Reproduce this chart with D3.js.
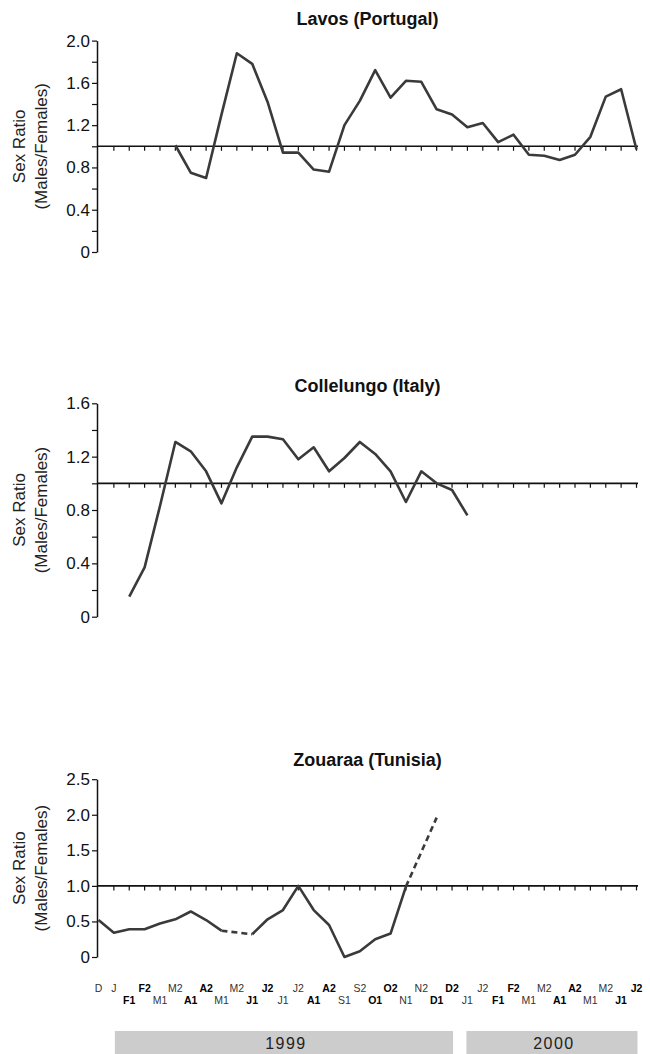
<!DOCTYPE html>
<html>
<head>
<meta charset="utf-8">
<script src="https://cdn.jsdelivr.net/npm/d3@7"></script>
<style>
  html, body { margin: 0; padding: 0; background: #fff; }
  svg { display: block; }
  text { font-family: "Liberation Sans", Arial, sans-serif; }
</style>
</head>
<body>
<svg id="chart" width="650" height="1054"></svg>
<script>
// Fortnightly sampling periods, Dec 1998 – Jun 2000
const categories = ["D","J","F1","F2","M1","M2","A1","A2","M1","M2","J1","J2",
  "J1","J2","A1","A2","S1","S2","O1","O2","N1","N2","D1","D2",
  "J1","J2","F1","F2","M1","M2","A1","A2","M1","M2","J1","J2"];

// Sex ratio (males/females) per sampling period; null = no sample
const lavos = [null,null,null,null,null,1.01,0.75,0.70,1.30,1.88,1.78,1.42,
  0.94,0.94,0.78,0.76,1.20,1.43,1.72,1.46,1.62,1.61,1.35,1.30,
  1.18,1.22,1.04,1.11,0.92,0.91,0.87,0.92,1.09,1.47,1.54,0.97];

const collelungo = [null,null,0.15,0.37,0.83,1.31,1.24,1.09,0.85,1.12,1.35,1.35,
  1.33,1.18,1.27,1.09,1.19,1.31,1.22,1.09,0.86,1.09,1.00,0.95,
  0.76,null,null,null,null,null,null,null,null,null,null,null];

const zouaraa = [0.52,0.34,0.39,0.39,0.47,0.53,0.64,0.52,0.37,null,0.32,0.53,
  0.66,1.00,0.66,0.45,0.00,0.08,0.25,0.33,0.99,null,1.96,null,
  null,null,null,null,null,null,null,null,null,null,null,null];

const yearLabels = ["1999", "2000"];
const yearFirst = [1, 24];
const yearLast = [23, 35];

const panels = [
  { title: "Lavos (Portugal)",    values: lavos,      yMax: 2.0, minor: 0.2, major: 0.4, top: 40.6,  bottom: 252,   titleY: 25 },
  { title: "Collelungo (Italy)",  values: collelungo, yMax: 1.6, minor: 0.2, major: 0.4, top: 403.3, bottom: 616.7, titleY: 392 },
  { title: "Zouaraa (Tunisia)",   values: zouaraa,    yMax: 2.5, minor: 0.5, major: 0.5, top: 779.2, bottom: 957,   titleY: 766 }
];

const svg = d3.select("#chart");
const axisX = 97;
const x = d3.scalePoint().domain(d3.range(categories.length)).range([98.5, 636.5]);
const lineEnd = 638;
const titleX = (axisX + lineEnd) / 2;

function ticksFor(max, step) {
  const n = Math.round(max / step);
  return d3.range(n + 1).map(k => +(k * step).toFixed(2));
}

panels.forEach(p => {
  const y = d3.scaleLinear().domain([0, p.yMax]).range([p.bottom, p.top]);
  const g = svg.append("g");

  // title
  g.append("text")
    .attr("x", titleX).attr("y", p.titleY)
    .attr("text-anchor", "middle")
    .attr("font-size", 18).attr("font-weight", "bold").attr("fill", "#111")
    .text(p.title);

  // y axis
  const majors = ticksFor(p.yMax, p.major);
  const yAxis = d3.axisLeft(y)
    .tickValues(ticksFor(p.yMax, p.minor))
    .tickSize(5).tickSizeOuter(0).tickPadding(2)
    .tickFormat(d => majors.some(m => Math.abs(m - d) < 1e-6) ? (d === 0 ? "0" : d3.format(".1f")(d)) : "");
  const ya = g.append("g").attr("transform", `translate(${axisX},0)`).call(yAxis);
  ya.select(".domain").attr("stroke", "#111").attr("stroke-width", 1.5);
  ya.selectAll(".tick line").attr("stroke", "#111").attr("stroke-width", 1.2);
  ya.selectAll(".tick text").attr("font-size", 17).attr("fill", "#111")
    .attr("font-family", "'Liberation Sans', Arial, sans-serif");

  // y axis title
  const cy = (p.top + p.bottom) / 2;
  g.append("text")
    .attr("transform", `translate(25,${cy}) rotate(-90)`)
    .attr("text-anchor", "middle").attr("font-size", 17).attr("fill", "#222")
    .text("Sex Ratio");
  g.append("text")
    .attr("transform", `translate(47,${cy}) rotate(-90)`)
    .attr("text-anchor", "middle").attr("font-size", 17).attr("fill", "#222")
    .text("(Males/Females)");

  // reference line at ratio 1.0 with period ticks
  const y1 = y(1);
  g.append("line")
    .attr("x1", axisX).attr("x2", lineEnd).attr("y1", y1).attr("y2", y1)
    .attr("stroke", "#111").attr("stroke-width", 1.6);
  g.append("g").selectAll("line")
    .data(d3.range(1, categories.length))
    .join("line")
    .attr("x1", i => x(i)).attr("x2", i => x(i))
    .attr("y1", y1).attr("y2", y1 + 4.5)
    .attr("stroke", "#111").attr("stroke-width", 1.2);

  // observed series
  const pts = p.values.map((v, i) => ({ i, v }));
  const line = d3.line().defined(d => d.v !== null).x(d => x(d.i)).y(d => y(d.v));
  g.append("path")
    .datum(pts)
    .attr("d", line)
    .attr("fill", "none").attr("stroke", "#3a3a3a").attr("stroke-width", 2.6)
    .attr("stroke-linejoin", "round");

  // dashed bridges across missing samples
  const present = pts.filter(d => d.v !== null);
  const bridges = [];
  for (let k = 1; k < present.length; k++) {
    if (present[k].i - present[k - 1].i > 1) bridges.push([present[k - 1], present[k]]);
  }
  g.append("g").selectAll("path")
    .data(bridges)
    .join("path")
    .attr("d", d3.line().x(d => x(d.i)).y(d => y(d.v)))
    .attr("fill", "none").attr("stroke", "#3a3a3a").attr("stroke-width", 2.6)
    .attr("stroke-dasharray", "6,4");
});

// period labels under the bottom panel (two staggered rows)
const labelG = svg.append("g");
labelG.selectAll("text")
  .data(categories.map((c, i) => ({ c, i })))
  .join("text")
  .attr("x", d => x(d.i))
  .attr("y", d => d.c.endsWith("1") ? 1004 : 992)
  .attr("text-anchor", "middle")
  .attr("font-size", 10.5)
  .attr("font-weight", d => Math.floor(d.i / 2) % 2 === 1 ? "bold" : "normal")
  .attr("fill", d => Math.floor(d.i / 2) % 2 === 1 ? "#000" : "#333")
  .text(d => d.c);

// year bands
const yearG = svg.append("g");
yearLabels.forEach((yl, k) => {
  const x0 = x(yearFirst[k]) + (k === 0 ? 1 : -1);
  const x1 = x(yearLast[k]) + 1;
  yearG.append("rect")
    .attr("x", x0).attr("y", 1031).attr("width", x1 - x0).attr("height", 23)
    .attr("fill", "#cccccc");
  yearG.append("text")
    .attr("x", (x0 + x1) / 2 + 2).attr("y", 1049)
    .attr("text-anchor", "middle")
    .attr("font-family", "'DejaVu Sans Mono', monospace")
    .attr("font-size", 16).attr("letter-spacing", 1.5).attr("fill", "#222")
    .text(yl);
});
</script>
</body>
</html>
